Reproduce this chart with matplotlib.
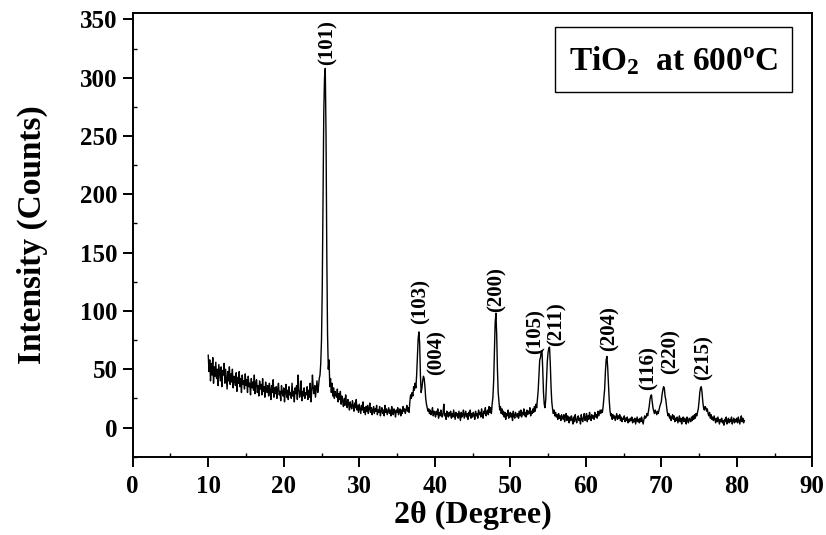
import numpy as np
import matplotlib
matplotlib.use("Agg")
import matplotlib.pyplot as plt
from matplotlib.ticker import MultipleLocator
from matplotlib.patches import Rectangle

plt.rcParams['font.family'] = ['Liberation Serif', 'DejaVu Serif']
plt.rcParams['font.weight'] = 'bold'
plt.rcParams['mathtext.fontset'] = 'custom'
plt.rcParams['mathtext.rm'] = 'Liberation Serif:bold'
plt.rcParams['mathtext.bf'] = 'Liberation Serif:bold'
plt.rcParams['mathtext.it'] = 'Liberation Serif:bold:italic'

# ---- data (2theta sampled every 0.1 degree starting at 10.0) ----
two_theta_start = 10.0
two_theta_step = 0.1
intensity = [
    62, 48, 58, 40, 55, 45, 60, 38, 52, 44,   # 10
    56, 42, 50, 36, 54, 47, 40, 52, 35, 49,   # 11
    45, 55, 38, 50, 42, 33, 48, 40, 52, 37,   # 12
    46, 39, 50, 34, 44, 41, 36, 47, 31, 43,   # 13
    38, 48, 35, 42, 30, 45, 37, 40, 33, 46,   # 14
    36, 41, 30, 44, 35, 38, 28, 42, 34, 39,   # 15
    32, 45, 29, 38, 41, 30, 36, 27, 40, 33,   # 16
    37, 28, 42, 31, 35, 26, 39, 33, 30, 36,   # 17
    27, 38, 32, 24, 36, 30, 41, 26, 34, 29,   # 18
    35, 25, 33, 38, 28, 31, 23, 36, 30, 27,   # 19
    34, 22, 31, 37, 26, 32, 24, 35, 28, 30,   # 20
    25, 38, 27, 31, 22, 34, 29, 36, 24, 45,   # 21
    33, 26, 29, 40, 23, 31, 27, 34, 25, 30,   # 22
    28, 35, 24, 32, 26, 38, 22, 30, 45, 34,   # 23
    29, 36, 26, 33, 40, 30, 35, 42, 45, 55,   # 24
    75, 120, 200, 270, 300, 308, 250, 150, 80, 50,  # 25
    58, 35, 42, 30, 38, 27, 34, 25, 31, 28,   # 26
    26, 33, 22, 29, 24, 31, 20, 27, 23, 18,   # 27
    25, 19, 28, 21, 17, 24, 20, 15, 22, 18,   # 28
    16, 23, 19, 14, 21, 17, 24, 15, 19, 13,   # 29
    20, 16, 12, 19, 15, 22, 13, 17, 11, 18,   # 30
    14, 19, 12, 16, 21, 13, 17, 11, 15, 18,   # 31
    12, 16, 14, 19, 11, 15, 13, 18, 10, 14,   # 32
    17, 12, 15, 10, 19, 13, 16, 11, 14, 17,   # 33
    12, 15, 10, 18, 13, 11, 16, 14, 9, 15,    # 34
    13, 17, 11, 14, 16, 10, 15, 12, 18, 14,   # 35
    16, 12, 15, 19, 14, 17, 13, 22, 28, 25,   # 36
    30, 27, 35, 32, 38, 34, 45, 60, 76, 82,   # 37
    72, 45, 30, 34, 40, 44, 42, 35, 25, 20,   # 38
    17, 14, 16, 12, 15, 11, 13, 17, 10, 14,   # 39
    12, 9, 14, 11, 16, 8, 13, 10, 15, 11,     # 40
    9, 13, 20, 10, 12, 7, 14, 11, 9, 13,      # 41
    10, 14, 8, 12, 9, 15, 11, 7, 13, 10,      # 42
    12, 8, 14, 10, 6, 13, 9, 11, 15, 8,       # 43
    11, 14, 9, 12, 7, 13, 10, 15, 8, 12,      # 44
    9, 13, 11, 7, 14, 10, 12, 8, 15, 11,      # 45
    13, 9, 16, 11, 8, 14, 12, 17, 10, 13,     # 46
    15, 11, 18, 13, 17, 12, 20, 26, 40, 65,   # 47
    90, 98, 80, 50, 30, 22, 15, 18, 12, 16,   # 48
    11, 14, 9, 13, 7, 12, 10, 15, 8, 11,      # 49
    13, 9, 12, 6, 14, 10, 8, 13, 11, 9,       # 50
    12, 8, 14, 10, 15, 9, 13, 11, 16, 10,     # 51
    13, 9, 15, 11, 14, 12, 17, 10, 14, 12,    # 52
    16, 13, 18, 14, 20, 17, 24, 32, 45, 58,   # 53
    60, 65, 66, 50, 30, 20, 17, 24, 40, 56,   # 54
    64, 68, 69, 55, 35, 22, 16, 12, 15, 10,   # 55
    13, 9, 11, 7, 12, 8, 10, 6, 11, 9,        # 56
    7, 11, 5, 9, 12, 6, 10, 8, 4, 9,          # 57
    6, 10, 7, 3, 9, 5, 11, 7, 4, 8,           # 58
    10, 6, 8, 3, 11, 7, 5, 9, 12, 6,          # 59
    8, 12, 5, 10, 7, 13, 9, 6, 11, 8,         # 60
    10, 7, 13, 9, 11, 8, 14, 10, 12, 15,      # 61
    12, 15, 13, 18, 25, 33, 48, 58, 61, 52,   # 62
    38, 24, 15, 10, 12, 7, 11, 8, 10, 6,      # 63
    9, 12, 7, 10, 8, 11, 6, 9, 5, 8,          # 64
    7, 10, 5, 8, 6, 9, 4, 7, 5, 8,            # 65
    6, 9, 4, 7, 5, 8, 3, 6, 9, 5,             # 66
    7, 4, 8, 5, 9, 6, 3, 7, 10, 8,            # 67
    9, 12, 10, 14, 18, 24, 27, 28, 22, 17,    # 68
    14, 12, 15, 13, 11, 14, 12, 15, 18, 20,   # 69
    22, 28, 32, 35, 34, 27, 24, 18, 13, 10,   # 70
    12, 8, 10, 6, 9, 11, 7, 10, 5, 8,         # 71
    6, 9, 4, 7, 10, 5, 8, 3, 7, 9,            # 72
    5, 8, 6, 3, 9, 6, 4, 8, 7, 5,             # 73
    9, 6, 10, 7, 11, 8, 12, 10, 13, 16,       # 74
    22, 30, 34, 35, 30, 22, 17, 15, 18, 17,   # 75
    14, 16, 12, 10, 13, 8, 11, 7, 9, 6,       # 76
    10, 7, 4, 8, 5, 9, 6, 3, 7, 5,            # 77
    8, 4, 6, 2, 7, 5, 9, 3, 6, 8,             # 78
    4, 7, 5, 9, 3, 6, 8, 4, 7, 5,             # 79
    8, 4, 9, 6, 3, 7, 10, 5, 8, 4,            # 80
    6,
]

peak_labels = ['(101)', '(103)', '(004)', '(200)', '(105)', '(211)',
               '(204)', '(116)', '(220)', '(215)']
label_x = [25.8, 38.1, 40.3, 48.2, 53.3, 56.2, 63.2, 68.3, 71.2, 75.6]
label_y = [311, 89, 45, 99, 63, 70, 66, 32, 46, 41]

x_ticks = [0, 10, 20, 30, 40, 50, 60, 70, 80, 90]
y_ticks = [0, 50, 100, 150, 200, 250, 300, 350]

intensity = np.array(intensity, dtype=float)
two_theta = two_theta_start + two_theta_step * np.arange(len(intensity))

fig = plt.figure(figsize=(8.26, 5.35), dpi=100)
ax = fig.add_axes([0.1607, 0.1464, 0.8227, 0.8293])

ax.plot(two_theta, intensity, color='black', lw=1.0)

for lab, lx, ly in zip(peak_labels, label_x, label_y):
    ax.text(lx, ly, lab, rotation=90, ha='center', va='bottom',
            fontsize=15, fontweight='bold')

ax.set_xlim(0, 90)
ax.set_ylim(-25, 355.5)
ax.set_xticks(x_ticks)
ax.set_yticks(y_ticks)
ax.xaxis.set_minor_locator(MultipleLocator(5))
ax.yaxis.set_minor_locator(MultipleLocator(25))

ax.tick_params(which='major', direction='out', length=7, width=1.4,
               labelsize=18, top=False, right=False, pad=4)
ax.tick_params(which='minor', direction='in', length=3, width=1.0,
               top=False, right=False)
ax.tick_params(axis='x', which='major', pad=6)
for lbl in ax.get_xticklabels() + ax.get_yticklabels():
    lbl.set_fontweight('bold')

for sp in ax.spines.values():
    sp.set_linewidth(1.4)

ax.set_xlabel('2θ (Degree)', fontsize=23, fontweight='bold')
ax.set_ylabel('Intensity (Counts)', fontsize=24, fontweight='bold')
ax.xaxis.set_label_coords(0.5, -0.10)
ax.yaxis.set_label_coords(-0.125, 0.5)

box = Rectangle((0.621, 0.822), 0.349, 0.146, transform=ax.transAxes,
                facecolor='white', edgecolor='black', lw=1.0, zorder=5)
ax.add_patch(box)
ax.text(0.7955, 0.893, r'TiO$_{\mathbf{2}}$  at 600$^{\mathbf{o}}$C',
        transform=ax.transAxes, ha='center', va='center',
        fontsize=24, fontweight='bold', zorder=6)

fig.savefig('out.png', dpi=100)
